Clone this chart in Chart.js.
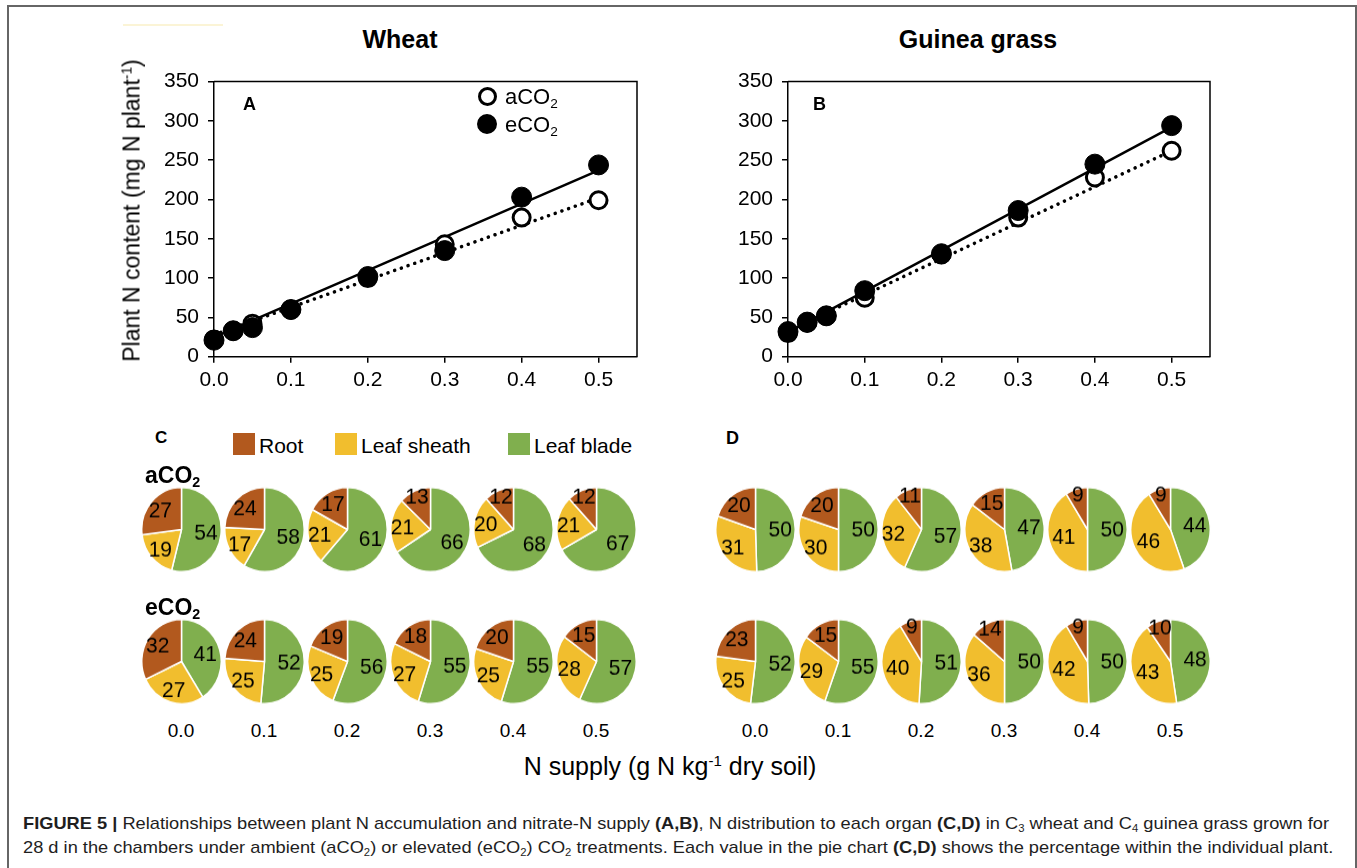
<!DOCTYPE html>
<html>
<head>
<meta charset="utf-8">
<title>Figure 5</title>
<script src="https://cdn.jsdelivr.net/npm/chart.js@4.4.1/dist/chart.umd.min.js"></script>
<style>
html,body{margin:0;padding:0;background:#fff}
body{width:1357px;height:868px;position:relative;overflow:hidden;font-family:"Liberation Sans",Arial,Helvetica,sans-serif;color:#000}
.t{position:absolute;white-space:nowrap;line-height:1}
sub{font-size:0.62em;vertical-align:-0.28em;line-height:0}
sup{font-size:0.6em;vertical-align:0.6em;line-height:0}
canvas{position:absolute}
.frame{position:absolute;left:7px;top:5px;width:1350px;height:900px;border:2px solid #666;box-sizing:border-box}
.sw{position:absolute;width:22px;height:22px}
.mk{position:absolute;border-radius:50%;box-sizing:border-box}
</style>
</head>
<body>
<div class="frame"></div>
<div style="position:absolute;left:123px;top:24px;width:100px;height:2px;background:#fbf4d6"></div>
<canvas id="chartA" width="520" height="340" style="left:140px;top:60px;width:520px;height:340px"></canvas>
<canvas id="chartB" width="519" height="340" style="left:714px;top:60px;width:519px;height:340px"></canvas>
<script>
// ---------- data ----------
const nSupply = [0, 0.025, 0.05, 0.1, 0.2, 0.3, 0.4, 0.5];
const wheatACO2 = [22, 33, 42, 60, 100, 143, 177, 199];
const wheatECO2 = [21, 33, 37, 60, 102, 135, 203, 244];
const guineaACO2 = [30, 43, 52, 75, 130, 177, 228, 262];
const guineaECO2 = [32, 44, 52, 84, 131, 186, 245, 294];
const fitX = [0, 0.5];
const wheatFitACO2 = [28, 202];
const wheatFitECO2 = [25, 237];
const guineaFitACO2 = [33, 262];
const guineaFitECO2 = [31, 292];
const xTickLabels = ['0.0', '0.1', '0.2', '0.3', '0.4', '0.5'];
const yTickLabels = ['0', '50', '100', '150', '200', '250', '300', '350'];

const organs = ['Leaf blade', 'Leaf sheath', 'Root'];
const pieLevels = ['0.0', '0.1', '0.2', '0.3', '0.4', '0.5'];
// each entry: [leaf blade, leaf sheath, root] (%)
const wheatPieACO2 = [[54,19,27],[58,17,24],[61,21,17],[66,21,13],[68,20,12],[67,21,12]];
const wheatPieECO2 = [[41,27,32],[52,25,24],[56,25,19],[55,27,18],[55,25,20],[57,28,15]];
const guineaPieACO2 = [[50,31,20],[50,30,20],[57,32,11],[47,38,15],[50,41,9],[44,46,9]];
const guineaPieECO2 = [[52,25,23],[55,29,15],[51,40,9],[50,36,14],[50,42,9],[48,43,10]];

// ---------- style ----------
const FONT = '"Liberation Sans", Arial, Helvetica, sans-serif';
const organColors = ['#80AF4E', '#F1BE2E', '#B2591E'];
Chart.defaults.font.family = FONT;
Chart.defaults.color = '#000';

function txt(html, x, base, size, bold, align) {
  const d = document.createElement('div');
  d.className = 't';
  d.innerHTML = html;
  d.style.fontSize = size + 'px';
  if (bold) d.style.fontWeight = 'bold';
  d.style.top = (base - 0.847 * size) + 'px';
  if (align === 'center') { d.style.left = (x - 300) + 'px'; d.style.width = '600px'; d.style.textAlign = 'center'; }
  else d.style.left = x + 'px';
  document.body.appendChild(d);
  return d;
}

const boxPlugin = {
  id: 'box',
  beforeDatasetsDraw(chart) {
    const a = chart.chartArea, ctx = chart.ctx;
    ctx.save();
    ctx.strokeStyle = '#000';
    ctx.lineWidth = 1.5;
    ctx.beginPath();
    ctx.moveTo(a.left, a.top); ctx.lineTo(a.right, a.top); ctx.lineTo(a.right, a.bottom);
    ctx.stroke();
    ctx.restore();
  }
};

function scatterChart(id, aVals, eVals, fitA, fitE) {
  const pts = v => nSupply.map((x, i) => ({x: x, y: v[i]}));
  const fit = v => fitX.map((x, i) => ({x: x, y: v[i]}));
  return new Chart(document.getElementById(id), {
    type: 'scatter',
    data: {
      datasets: [
        {label: 'eCO2', data: pts(eVals), pointRadius: 10, pointBackgroundColor: '#000', pointBorderColor: '#000', pointBorderWidth: 1, showLine: false, clip: false, order: 0},
        {label: 'aCO2', data: pts(aVals), pointRadius: 8.5, pointBackgroundColor: '#fff', pointBorderColor: '#000', pointBorderWidth: 3, showLine: false, clip: false, order: 1},
        {label: 'eCO2 fit', data: fit(fitE), showLine: true, borderColor: '#000', borderWidth: 2.5, pointRadius: 0, clip: false, order: 2},
        {label: 'aCO2 fit', data: fit(fitA), showLine: true, borderColor: '#000', borderWidth: 3.5, borderDash: [0.1, 7], borderCapStyle: 'round', pointRadius: 0, clip: false, order: 3}
      ]
    },
    options: {
      responsive: false, animation: false, events: [],
      layout: {padding: {top: 14, right: 23, left: 0, bottom: 0}},
      plugins: {legend: {display: false}, tooltip: {enabled: false}},
      scales: {
        x: {
          type: 'linear', min: 0, max: 0.55,
          afterFit(s) { s.height = 43.3; },
          ticks: {stepSize: 0.1, includeBounds: false, autoSkip: false, maxRotation: 0, padding: 5,
                  font: {size: 21}, color: '#000',
                  callback: v => xTickLabels[Math.round(v * 10)]},
          grid: {drawOnChartArea: false, drawTicks: true, tickLength: 6, color: '#000', lineWidth: 1.5},
          border: {color: '#000', width: 1.5}
        },
        y: {
          type: 'linear', min: 0, max: 350,
          afterFit(s) { s.width = 74; },
          ticks: {stepSize: 50, includeBounds: false, padding: 9, font: {size: 21}, color: '#000',
                  callback: v => yTickLabels[Math.round(v / 50)]},
          grid: {drawOnChartArea: false, drawTicks: true, tickLength: 6, color: '#000', lineWidth: 1.5},
          border: {color: '#000', width: 1.5}
        }
      }
    },
    plugins: [boxPlugin]
  });
}

scatterChart('chartA', wheatACO2, wheatECO2, wheatFitACO2, wheatFitECO2);
scatterChart('chartB', guineaACO2, guineaECO2, guineaFitACO2, guineaFitECO2);

// pie labels plugin
const pieLabelPlugin = {
  id: 'pieLabels',
  afterDatasetsDraw(chart) {
    const ctx = chart.ctx;
    const meta = chart.getDatasetMeta(0);
    const vals = chart.data.datasets[0].data;
    meta.data.forEach((arc, i) => {
      const p = arc.getProps(['x', 'y', 'startAngle', 'endAngle', 'outerRadius'], true);
      const mid = (p.startAngle + p.endAngle) / 2;
      const v = vals[i];
      const f = v < 15 ? 0.86 : (v < 40 ? 0.71 : 0.62);
      ctx.save();
      ctx.font = '21px ' + FONT;
      ctx.fillStyle = '#000';
      ctx.textAlign = 'center';
      ctx.textBaseline = 'middle';
      ctx.fillText(String(v), p.x + Math.cos(mid) * p.outerRadius * f, p.y + Math.sin(mid) * p.outerRadius * f + 1);
      ctx.restore();
    });
  }
};

function pie(vals, cx, cy) {
  const size = 81;
  const c = document.createElement('canvas');
  c.width = size; c.height = size;
  c.style.left = (cx - size / 2) + 'px';
  c.style.top = (cy - size / 2) + 'px';
  c.style.width = size + 'px'; c.style.height = size + 'px';
  c.style.transform = 'scaleY(1.06)';
  document.body.appendChild(c);
  new Chart(c, {
    type: 'pie',
    data: {labels: organs, datasets: [{data: vals, backgroundColor: organColors, borderColor: '#fff', borderWidth: 1.5}]},
    options: {responsive: false, animation: false, events: [], layout: {padding: 0},
              plugins: {legend: {display: false}, tooltip: {enabled: false}}},
    plugins: [pieLabelPlugin]
  });
}

const cStart = 181, dStart = 755, step = 83, rowA = 529, rowE = 661;
pieLevels.forEach((lvl, i) => {
  pie(wheatPieACO2[i], cStart + step * i, rowA);
  pie(wheatPieECO2[i], cStart + step * i, rowE);
  pie(guineaPieACO2[i], dStart + step * i, rowA);
  pie(guineaPieECO2[i], dStart + step * i, rowE);
  txt(lvl, cStart + step * i, 737, 19, false, 'center');
  txt(lvl, dStart + step * i, 737, 19, false, 'center');
});

// ---------- texts ----------
txt('Wheat', 400, 48, 25, true, 'center');
txt('Guinea grass', 978, 48, 25, true, 'center');
txt('A', 243, 110, 18, true);
txt('B', 813, 110, 18, true);

// legend in A
function marker(cx, cy, d, filled) {
  const m = document.createElement('div');
  m.className = 'mk';
  m.style.left = (cx - d / 2) + 'px'; m.style.top = (cy - d / 2) + 'px';
  m.style.width = d + 'px'; m.style.height = d + 'px';
  m.style.border = '3px solid #000';
  m.style.background = filled ? '#000' : '#fff';
  document.body.appendChild(m);
}
marker(487, 96, 19, false);
marker(487, 124, 20, true);
txt('aCO<sub>2</sub>', 505, 105, 22);
txt('eCO<sub>2</sub>', 505, 133, 22);

// y axis title
const yt = txt('Plant N content (mg N plant<sup>-1</sup>)', 132, 0, 23, false, 'center');
yt.style.top = (210 - 11.5) + 'px';
yt.style.height = '23px';
yt.style.transform = 'rotate(-90deg)';
yt.style.transformOrigin = '50% 50%';

// panel C / D legend
txt('C', 155, 443, 17, true);
txt('D', 726, 444, 18, true);
const legendX = [233, 335, 508];
const legendNames = ['Root', 'Leaf sheath', 'Leaf blade'];
const legendCols = [organColors[2], organColors[1], organColors[0]];
legendNames.forEach((n, i) => {
  const s = document.createElement('div');
  s.className = 'sw';
  s.style.left = legendX[i] + 'px'; s.style.top = '433px';
  s.style.background = legendCols[i];
  document.body.appendChild(s);
  txt(n, legendX[i] + 26, 453, 21);
});
txt('aCO<sub>2</sub>', 145, 483, 23, true);
txt('eCO<sub>2</sub>', 145, 615, 23, true);

txt('N supply (g N kg<sup>-1</sup> dry soil)', 670, 775, 25, false, 'center');

// caption
const cap1 = txt('<b>FIGURE 5 |</b> Relationships between plant N accumulation and nitrate-N supply <b>(A,B)</b>, N distribution to each organ <b>(C,D)</b> in C<sub>3</sub> wheat and C<sub>4</sub> guinea grass grown for', 23, 829, 17);
const cap2 = txt('28 d in the chambers under ambient (aCO<sub>2</sub>) or elevated (eCO<sub>2</sub>) CO<sub>2</sub> treatments. Each value in the pie chart <b>(C,D)</b> shows the percentage within the individual plant.', 23, 853, 17);
[cap1, cap2].forEach(c => { c.style.color = '#1e1e1e'; });
const w1 = cap1.getBoundingClientRect().width;
const sc = 1306 / w1;
[cap1, cap2].forEach(c => { c.style.transform = 'scaleX(' + sc + ')'; c.style.transformOrigin = '0 0'; });
</script>
</body>
</html>
